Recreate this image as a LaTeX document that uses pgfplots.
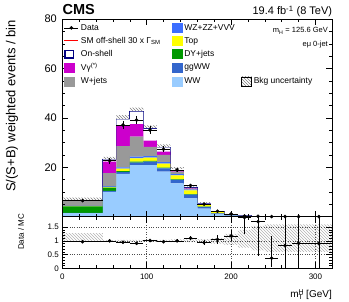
\documentclass[border=0pt]{standalone}
\usepackage{fontspec}
\setmainfont{Liberation Sans}
\usepackage{pgfplots}
\usepackage{pgfplotstable}
\pgfplotsset{compat=1.18}
\usetikzlibrary{patterns}
\definecolor{cww}{RGB}{153,204,255}
\definecolor{cggww}{RGB}{51,102,204}
\definecolor{cdy}{RGB}{0,153,0}
\definecolor{ctop}{RGB}{255,255,0}
\definecolor{cwz}{RGB}{60,110,255}
\definecolor{cwj}{RGB}{153,153,153}
\definecolor{cvg}{RGB}{204,0,204}
\definecolor{cnavy}{RGB}{0,0,128}

\pgfplotstableread{
x   ww    gg    dy    top   wz    wj   vg    on    unc
0   1.4   0.1   2.7   0.1   0.1   2.0  0.2   0.1   1.0
48  10.0  0.4   1.4   0.3   0.3   5.2  4.7   0.9   1.0
64  17.3  0.8   0.3   1.1   0.5   8.6  8.5   2.3   1.7
80  20.9  1.0   0.4   1.3   0.7   8.1  5.1   5.0   1.6
96  20.9  1.4   0.3   1.3   0.6   3.8  2.5   4.7   1.5
112 18.2  1.4   0.3   1.6   0.6   2.9  1.3   1.8   1.2
128 13.5  1.4   0.2   1.6   0.5   1.0  0.6   0.4   0.9
144 7.4   1.5   0.2   1.5   0.4   0.4  0.2   0.1   0.6
160 3.3   0.7   0.1   1.0   0.2   0.1  0.05  0.05  0.35
176 1.0   0.3   0.05  0.6   0.1   0.05 0     0     0.2
192 0.45  0.15  0.02  0.3   0.05  0.02 0     0     0.12
208 0.2   0.07  0.01  0.1   0.03  0.01 0     0     0.08
224 0.1   0.03  0     0.05  0.02  0    0     0     0.05
240 0.05  0.02  0     0.03  0.01  0    0     0     0.03
256 0.03  0.01  0     0.02  0.01  0    0     0     0.03
272 0.02  0.01  0     0.01  0     0    0     0     0.02
288 0.02  0.01  0     0.01  0     0    0     0     0.02
320 0.02  0.01  0     0.01  0     0    0     0     0.02
}\stacktab

\pgfplotstableread{
x   y     ex  ey
24  6.5   24  0.5
56  22.7  8   1.2
72  37.1  8   1.5
88  39.1  8   1.6
104 35.1  8   1.5
120 27.3  8   1.3
136 18.9  8   1.0
152 12.6  8   0.8
168 5.1   8   0.5
184 2.2   8   0.3
200 1.15  8   0.2
216 0.3   8   0.15
232 0.15  8   0.12
248 0.04  8   0.05
264 0.05  8   0.06
280 0.04  8   0.05
304 0.03  16  0.04
}\datatab

\pgfplotstableread{
x   r     ex  eyp  eym
24  0.97  24  0.05 0.05
56  1.00  8   0.04 0.04
72  0.95  8   0.03 0.03
88  0.91  8   0.03 0.03
104 1.01  8   0.03 0.03
120 0.97  8   0.04 0.04
136 1.00  8   0.05 0.05
152 1.10  8   0.07 0.07
168 0.94  8   0.10 0.10
184 1.05  8   0.15 0.15
200 1.18  8   0.20 0.20
216 1.85  8   0.60 0.60
232 1.70  8   1.25 1.25
248 0.37  8   0.82 0.33
264 0.83  8   1.20 0.83
280 0.91  8   1.20 0.87
304 0.91  16  1.20 0.91
}\ratiotab

\pgfplotstableread{
x   lo    hi
0   1.00  1.28
48  0.97  1.03
64  0.96  1.04
80  0.96  1.04
96  0.96  1.04
112 0.96  1.04
128 0.95  1.05
144 0.95  1.05
160 0.94  1.06
176 0.90  1.10
192 0.85  1.25
208 0.75  1.40
224 0.65  1.55
240 0.60  1.60
256 0.60  1.60
272 0.60  1.60
288 0.60  1.60
320 0.60  1.60
}\bandtab

\begin{document}
\begin{tikzpicture}
\useasboundingbox (0,0) rectangle (349pt,302pt);
\pgfplotsset{
  cmsframe/.style={scale only axis, width=270pt, xmin=0, xmax=320,
    tick align=inside, major tick length=6pt, minor tick length=3pt,
    /pgf/number format/assume math mode=true,
    tick style={black, line width=0.4pt}, axis line style={line width=0.6pt}},
}
% ---------------- main panel (stack) ----------------
\begin{axis}[cmsframe, at={(62.3pt,85.3pt)}, anchor=south west, height=197.7pt,
  ymin=0, ymax=80, ytick={0,20,40,60,80}, yticklabels={,20,40,60,80},
  minor y tick num=3, xtick={0,100,200,300}, minor x tick num=4, xticklabels={},
  yticklabel style={font=\fontsize{11}{12}\selectfont, xshift=-2pt},
  stack plots=y, axis on top]
\addplot[const plot, fill=cww, draw=none] table[x=x, y=ww] {\stacktab} \closedcycle;
\addplot[const plot, fill=cggww, draw=none] table[x=x, y=gg] {\stacktab} \closedcycle;
\addplot[const plot, fill=cdy, draw=none] table[x=x, y=dy] {\stacktab} \closedcycle;
\addplot[const plot, fill=ctop, draw=none] table[x=x, y=top] {\stacktab} \closedcycle;
\addplot[const plot, fill=cwz, draw=none] table[x=x, y=wz] {\stacktab} \closedcycle;
\addplot[const plot, fill=cwj, draw=none] table[x=x, y=wj] {\stacktab} \closedcycle;
\addplot[const plot, fill=cvg, draw=none] table[x=x, y=vg] {\stacktab} \closedcycle;
\addplot[const plot, fill=white, draw=none] table[x=x, y=on] {\stacktab} \closedcycle;
\addplot[const plot, draw=cnavy, line width=1.1pt] table[x=x, y expr=0] {\stacktab};
\addplot[const plot, draw=none] table[x=x, y expr=-\thisrow{unc}] {\stacktab};
\addplot[const plot, draw=none, pattern=north west lines, pattern color=black!50] table[x=x, y expr=2*\thisrow{unc}] {\stacktab} \closedcycle;
\end{axis}
% ---------------- main panel overlay (data, legend) ----------------
\begin{axis}[scale only axis, width=270pt, height=197.7pt, at={(62.3pt,85.3pt)}, anchor=south west,
  xmin=0, xmax=320, ymin=0, ymax=80, hide axis,
  legend columns=3, legend cell align=left,
  legend style={draw=none, fill=none, at={(axis description cs:0.005,0.985)}, anchor=north west,
    font=\fontsize{8.5}{10}\selectfont, row sep=1.5pt, inner sep=0pt}]
\addplot[red, line width=1.2pt, forget plot] coordinates {(0,0.2) (320,0.2)};
\addplot[black, only marks, mark=*, mark size=1.6pt, forget plot,
  error bars/.cd, x dir=both, x explicit, y dir=both, y explicit, error mark=none,
  error bar style={line width=0.6pt, black}]
  table[x=x, y=y, x error=ex, y error=ey] {\datatab};
\addlegendimage{legend image code/.code={\draw[black, line width=0.6pt] (0pt,0pt) -- (14pt,0pt); \fill[black] (7pt,0pt) circle (1.6pt);}}
\addlegendentry{\makebox[89pt][l]{Data}}
\addlegendimage{legend image code/.code={\fill[cwz] (0pt,-4.5pt) rectangle (10pt,4.5pt);}}
\addlegendentry{\makebox[55pt][l]{WZ+ZZ+VVV}}
\addlegendimage{empty legend}
\addlegendentry{}
\addlegendimage{legend image code/.code={\draw[red, line width=1.1pt] (0pt,0pt) -- (14pt,0pt);}}
\addlegendentry{SM off-shell 30 x Γ\textsubscript{SM}}
\addlegendimage{legend image code/.code={\fill[ctop] (0pt,-4.5pt) rectangle (10pt,4.5pt);}}
\addlegendentry{Top}
\addlegendimage{empty legend}
\addlegendentry{}
\addlegendimage{legend image code/.code={\draw[cnavy, line width=1.2pt, fill=white] (0.6pt,-3.9pt) rectangle (9.4pt,3.9pt);}}
\addlegendentry{On-shell}
\addlegendimage{legend image code/.code={\fill[cdy] (0pt,-4.5pt) rectangle (10pt,4.5pt);}}
\addlegendentry{DY+jets}
\addlegendimage{empty legend}
\addlegendentry{}
\addlegendimage{legend image code/.code={\fill[cvg] (0pt,-4.5pt) rectangle (10pt,4.5pt);}}
\addlegendentry{Vγ\textsuperscript{(*)}}
\addlegendimage{legend image code/.code={\fill[cggww] (0pt,-4.5pt) rectangle (10pt,4.5pt);}}
\addlegendentry{ggWW}
\addlegendimage{empty legend}
\addlegendentry{}
\addlegendimage{legend image code/.code={\fill[cwj] (0pt,-4.5pt) rectangle (10pt,4.5pt);}}
\addlegendentry{W+jets}
\addlegendimage{legend image code/.code={\fill[cww] (0pt,-4.5pt) rectangle (10pt,4.5pt);}}
\addlegendentry{WW}
\addlegendimage{legend image code/.code={\fill[pattern=north west lines, pattern color=black!50] (0pt,-4.5pt) rectangle (10pt,4.5pt);}}
\addlegendentry{Bkg uncertainty}
\end{axis}
% ---------------- ratio panel (frame, grid, band) ----------------
\begin{axis}[cmsframe, at={(62.3pt,33.7pt)}, anchor=south west, height=51.6pt,
  ymin=0, ymax=1.88, ytick={0,0.5,1,1.5}, minor y tick num=4,
  xtick={0,100,200,300}, minor x tick num=4,
  grid=major, major grid style={dotted, black!70, line width=0.5pt},
  yticklabel style={font=\fontsize{8}{9}\selectfont},
  xticklabel style={font=\fontsize{8}{9}\selectfont, yshift=-2pt},
  stack plots=y, axis on top]
\addplot[const plot, draw=none] table[x=x, y=lo] {\bandtab};
\addplot[const plot, draw=none, pattern=north west lines, pattern color=black!30] table[x=x, y expr=\thisrow{hi}-\thisrow{lo}] {\bandtab} \closedcycle;
\end{axis}
% ---------------- ratio panel overlay (data) ----------------
\begin{axis}[scale only axis, width=270pt, height=51.6pt, at={(62.3pt,33.7pt)}, anchor=south west,
  xmin=0, xmax=320, ymin=0, ymax=1.88, hide axis]
\addplot[black, only marks, mark=*, mark size=1.6pt,
  error bars/.cd, x dir=both, x explicit, y dir=both, y explicit, error mark=none,
  error bar style={line width=0.6pt, black}]
  table[x=x, y=r, x error=ex, y error plus=eyp, y error minus=eym] {\ratiotab};
\end{axis}
% ---------------- texts ----------------
\node[anchor=base west, font=\fontsize{14.5}{15}\selectfont\bfseries, inner sep=0pt] at (62.5pt,287pt) {CMS};
\node[anchor=base east, font=\fontsize{11}{12}\selectfont, inner sep=0pt] at (332.3pt,287pt) {19.4 fb\textsuperscript{-1} (8 TeV)};
\node[anchor=base east, font=\fontsize{7.5}{8}\selectfont, inner sep=0pt] at (328pt,269pt) {m\textsubscript{H} = 125.6 GeV};
\node[anchor=base east, font=\fontsize{7.5}{8}\selectfont, inner sep=0pt] at (328pt,255.3pt) {eμ 0-jet};
\node[rotate=90, anchor=east, font=\fontsize{13}{14}\selectfont, inner sep=0pt] at (12pt,282pt) {S/(S+B) weighted events / bin};
\node[rotate=90, anchor=east, font=\fontsize{8}{9}\selectfont, inner sep=0pt] at (21pt,88.3pt) {Data / MC};
\node[anchor=base east, font=\fontsize{10}{11}\selectfont, inner sep=0pt] at (332pt,4pt) {m\rlap{\textsuperscript{H}}\textsubscript{T} [GeV]};
\end{tikzpicture}
\end{document}
